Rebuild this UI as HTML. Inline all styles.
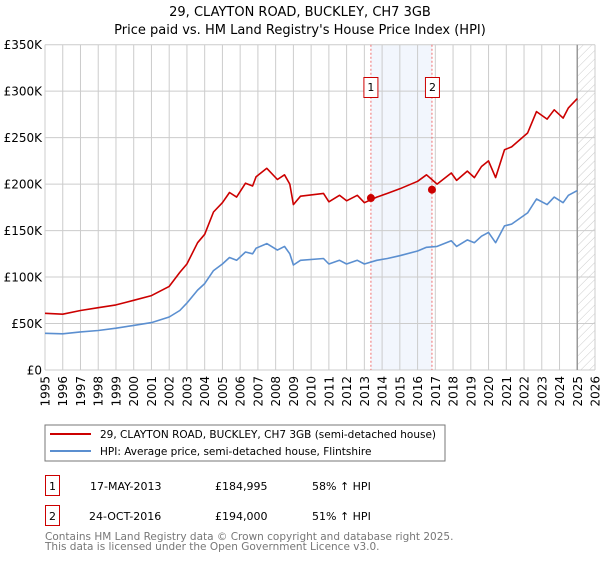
<!DOCTYPE html>
<html><head><meta charset="utf-8"><style>
body{margin:0;background:#fff;font-family:"DejaVu Sans","Liberation Sans",sans-serif;}
svg text{font-family:"DejaVu Sans","Liberation Sans",sans-serif;}
</style></head><body>
<svg id="chart" width="600" height="560" xmlns="http://www.w3.org/2000/svg">
<defs><pattern id="hatch" width="6" height="6" patternUnits="userSpaceOnUse" patternTransform="rotate(45)"><line x1="0" y1="0" x2="0" y2="6" stroke="#ccc" stroke-width="1"/></pattern></defs>
<text x="300" y="16" text-anchor="middle" font-size="13">29, CLAYTON ROAD, BUCKLEY, CH7 3GB</text>
<text x="300" y="34" text-anchor="middle" font-size="13">Price paid vs. HM Land Registry's House Price Index (HPI)</text>
<g id="grid"></g><g id="marks"></g><g id="axes"></g>
<rect x="45" y="425" width="400" height="36" fill="#fff" stroke="#777"/>
<line x1="50" y1="434" x2="91" y2="434" stroke="#cc0000" stroke-width="2"/>
<text x="100" y="438" font-size="10.5">29, CLAYTON ROAD, BUCKLEY, CH7 3GB (semi-detached house)</text>
<line x1="50" y1="451" x2="91" y2="451" stroke="#5b8fd0" stroke-width="2"/>
<text x="100" y="455" font-size="10.5">HPI: Average price, semi-detached house, Flintshire</text>
<rect x="45.5" y="475.5" width="14" height="20" fill="#fff" stroke="#cc0000"/>
<text x="52.5" y="490" text-anchor="middle" font-size="11">1</text>
<text x="90" y="490" font-size="11">17-MAY-2013</text>
<text x="215" y="490" font-size="11">£184,995</text>
<text x="312" y="490" font-size="11">58% ↑ HPI</text>
<rect x="45.5" y="505.5" width="14" height="20" fill="#fff" stroke="#cc0000"/>
<text x="52.5" y="520" text-anchor="middle" font-size="11">2</text>
<text x="89" y="520" font-size="11">24-OCT-2016</text>
<text x="215" y="520" font-size="11">£194,000</text>
<text x="312" y="520" font-size="11">51% ↑ HPI</text>
<text x="45" y="540" font-size="10.5" fill="#777">Contains HM Land Registry data © Crown copyright and database right 2025.</text>
<text x="45" y="550" font-size="10.5" fill="#777">This data is licensed under the Open Government Licence v3.0.</text>
</svg>
<script>
const years=[1995,1996,1997,1998,1999,2000,2001,2002,2002.6,2003,2003.6,2004,2004.5,2005,2005.4,2005.8,2006.3,2006.7,2006.9,2007.5,2008.1,2008.5,2008.8,2009.0,2009.4,2010.7,2011,2011.6,2012,2012.6,2013,2013.7,2014.3,2015,2016,2016.5,2017.1,2017.9,2018.2,2018.8,2019.2,2019.6,2020,2020.4,2020.9,2021.3,2022.2,2022.7,2023.3,2023.7,2024.2,2024.5,2025.0];
const hpiValues=[39.5,39,41,42.5,45,48,51,57,64,72,86,93,107,114,121,118,127,125,131,136,129,133,125,113,118,120,114,118,114,118,114,118,120,123,128,132,133,139,133,140,137,144,148,137,155,157,169,184,178,186,180,188,193];
const priceValues=[61,60,64,67,70,75,80,90,105,114,137,146,170,180,191,186,201,198,208,217,205,210,200,178,187,190,181,188,182,188,180,186,190,195,203,210,200,212,204,214,207,219,225,207,237,240,255,278,270,280,271,282,292];
const saleYears=[2013.37,2016.81];
const salePrices=[184.995,194];
const saleLabels=["1","2"];
const yTicks=[0,50,100,150,200,250,300,350];
const yTickLabels=["£0","£50K","£100K","£150K","£200K","£250K","£300K","£350K"];
const xTicks=[1995,1996,1997,1998,1999,2000,2001,2002,2003,2004,2005,2006,2007,2008,2009,2010,2011,2012,2013,2014,2015,2016,2017,2018,2019,2020,2021,2022,2023,2024,2025,2026];
const dataEnd=2025.0;

const NS="http://www.w3.org/2000/svg";
const X0=45,X1=595,Y0=370,Y1=44.7;
const xs=y=>X0+(y-1995)/(2026-1995)*(X1-X0);
const ys=v=>Y0-v/350*(Y0-Y1);
function mk(tag,attrs,parent){const e=document.createElementNS(NS,tag);for(const k in attrs)e.setAttribute(k,attrs[k]);parent.appendChild(e);return e;}
const grid=document.getElementById('grid'),marks=document.getElementById('marks'),axes=document.getElementById('axes');
const sh=mk('rect',{x:xs(saleYears[0]),y:Y1,width:xs(saleYears[1])-xs(saleYears[0]),height:Y0-Y1,fill:'#f2f6fd'},grid);


const ht=mk('rect',{x:xs(dataEnd),y:Y1,width:X1-xs(dataEnd),height:Y0-Y1,fill:'url(#hatch)'},grid);


xTicks.forEach((t,i)=>{
  const l=mk('line',{x1:xs(t),x2:xs(t),y1:Y1,y2:Y0,stroke:'#ccc','stroke-width':1},grid);
  
  
  const tx=mk('text',{x:0,y:0,'font-size':12,'text-anchor':'end',transform:`translate(${xs(t)+4.5},${Y0+6}) rotate(-90)`},axes);
  tx.textContent=t;
  
  
});
yTicks.forEach((t,i)=>{
  const l=mk('line',{x1:X0,x2:X1,y1:ys(t),y2:ys(t),stroke:'#ccc','stroke-width':1},grid);
  
  
  const tx=mk('text',{x:X0-3,y:ys(t)+4.5,'font-size':12,'text-anchor':'end'},axes);
  tx.textContent=yTickLabels[i];
  
  
});
const el=mk('line',{x1:xs(dataEnd),x2:xs(dataEnd),y1:Y1,y2:Y0,stroke:'#999','stroke-width':1.5},grid);


saleYears.forEach((s,i)=>{
  const l=mk('line',{x1:xs(s),x2:xs(s),y1:Y1,y2:Y0,stroke:'#f07070','stroke-width':1,'stroke-dasharray':'2,2'},grid);
  
  
});
function path(vals,color,name){
  const d=years.map((y,i)=>(i?'L':'M')+xs(y).toFixed(1)+','+ys(vals[i]).toFixed(1)).join('');
  const p=mk('path',{d:d,fill:'none',stroke:color,'stroke-width':1.6,'stroke-linejoin':'round'},marks);
  
  
}
path(hpiValues,'#5b8fd0','hpi-line');
path(priceValues,'#cc0000','price-line');
saleYears.forEach((s,i)=>{
  const c=mk('circle',{cx:xs(s),cy:ys(salePrices[i]),r:4,fill:'#cc0000'},marks);
  
  
  const b=mk('rect',{x:xs(s)-7-(i?-0.5:0),y:77.5,width:14,height:20,fill:'#fff',stroke:'#cc0000'},marks);
  
  
  const t=mk('text',{x:xs(s)-(i?-0.5:0),y:91,'font-size':11,'text-anchor':'middle'},marks);
  t.textContent=saleLabels[i];
  
  
});
</script>
</body></html>
